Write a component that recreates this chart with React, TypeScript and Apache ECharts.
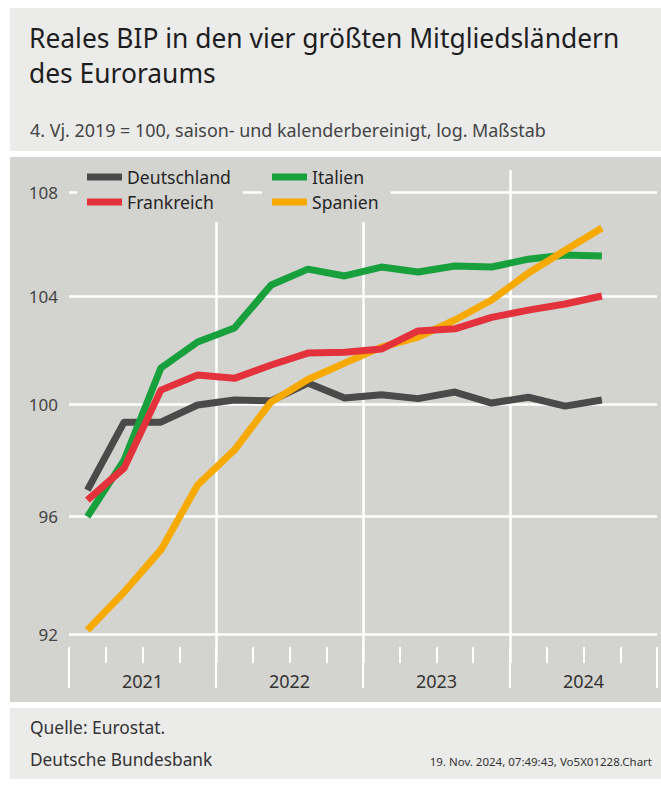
import React, { useEffect, useRef } from 'react';
import * as echarts from 'echarts';

const quarters = [
  '2021 Q1', '2021 Q2', '2021 Q3', '2021 Q4',
  '2022 Q1', '2022 Q2', '2022 Q3', '2022 Q4',
  '2023 Q1', '2023 Q2', '2023 Q3', '2023 Q4',
  '2024 Q1', '2024 Q2', '2024 Q3', '2024 Q4',
];
const years = ['2021', '2022', '2023', '2024'];

const deutschland = [96.93, 99.35, 99.35, 99.97, 100.15, 100.12, 100.77, 100.22, 100.34, 100.2, 100.44, 100.04, 100.25, 99.93, 100.15];
const italien = [96.0, 97.99, 101.32, 102.28, 102.8, 104.42, 105.02, 104.76, 105.1, 104.91, 105.14, 105.1, 105.4, 105.56, 105.52];
const frankreich = [96.58, 97.71, 100.51, 101.06, 100.94, 101.43, 101.87, 101.9, 102.02, 102.69, 102.77, 103.2, 103.47, 103.7, 104.0];
const spanien = [92.13, 93.41, 94.85, 97.11, 98.35, 100.08, 100.9, 101.5, 102.09, 102.46, 103.1, 103.85, 104.87, 105.74, 106.6];

const yTicks = [92, 96, 100, 104, 108];
const yearBoundaries = [4, 8, 12];

const FONT = '"Noto Sans", "Open Sans", sans-serif';
const PLOT_BG = '#d3d3d0';
const HEAD_BG = '#ebebea';

// layout (pixels)
const W = 661;
const H = 785;
const GRID_LEFT = 69;
const GRID_RIGHT_X = 657;
const GRID_TOP = 170;
const GRID_BOTTOM_Y = 663;
const Y_LOW = 634; // pixel of lowest tick
const Y_HIGH = 192; // pixel of highest tick

export default function App() {
  const ref = useRef<HTMLDivElement>(null);

  useEffect(() => {
    if (!ref.current) return;
    const chart = echarts.init(ref.current, undefined, { renderer: 'svg' });

    const lo = yTicks[0];
    const hi = yTicks[yTicks.length - 1];
    const perPx = Math.log(hi / lo) / (Y_LOW - Y_HIGH);
    const yMin = lo * Math.exp(-perPx * (GRID_BOTTOM_Y - Y_LOW));
    const yMax = hi * Math.exp(perPx * (Y_HIGH - GRID_TOP));

    const lineSeries = (name: string, data: number[], color: string) => ({
      name,
      type: 'line',
      xAxisIndex: 0,
      yAxisIndex: 0,
      data,
      symbol: 'none',
      showSymbol: false,
      silent: true,
      itemStyle: { color },
      lineStyle: { color, width: 7, join: 'round' },
      z: 3,
    });

    const legendBase = {
      orient: 'vertical',
      top: 165,
      icon: 'rect',
      itemWidth: 35,
      itemHeight: 7,
      itemGap: 7,
      backgroundColor: PLOT_BG,
      padding: [3, 12, 11, 10],
      selectedMode: false,
      textStyle: { fontFamily: FONT, fontSize: 17.6, color: '#262626' },
    };

    chart.setOption({
      animation: false,
      backgroundColor: 'transparent',
      textStyle: { fontFamily: FONT },
      graphic: [
        {
          type: 'text',
          style: {
            text: 'Reales BIP in den vier größten Mitgliedsländern',
            x: 29, y: 38, fontFamily: FONT, fontSize: 26.4, fill: '#1e1e1e', verticalAlign: 'middle',
          },
        },
        {
          type: 'text',
          style: {
            text: 'des Euroraums',
            x: 29, y: 73, fontFamily: FONT, fontSize: 26.4, fill: '#1e1e1e', verticalAlign: 'middle',
          },
        },
        {
          type: 'text',
          style: {
            text: '4. Vj. 2019 = 100, saison- und kalenderbereinigt, log. Maßstab',
            x: 30, y: 130, fontFamily: FONT, fontSize: 17.9, fill: '#444', verticalAlign: 'middle',
          },
        },
        {
          type: 'text',
          style: {
            text: 'Quelle: Eurostat.',
            x: 30, y: 727, fontFamily: FONT, fontSize: 17.4, fill: '#333', verticalAlign: 'middle',
          },
        },
        {
          type: 'text',
          style: {
            text: 'Deutsche Bundesbank',
            x: 30, y: 759, fontFamily: FONT, fontSize: 17.3, fill: '#333', verticalAlign: 'middle',
          },
        },
        {
          type: 'text',
          style: {
            text: '19. Nov. 2024, 07:49:43, Vo5X01228.Chart',
            x: 652, y: 761, fontFamily: FONT, fontSize: 11.5, fill: '#333', align: 'right', verticalAlign: 'middle',
          },
        },
      ],
      legend: [
        { ...legendBase, left: 77, data: ['Deutschland', 'Frankreich'] },
        { ...legendBase, left: 262, data: ['Italien', 'Spanien'] },
      ],
      grid: {
        left: GRID_LEFT,
        right: W - GRID_RIGHT_X,
        top: GRID_TOP,
        bottom: H - GRID_BOTTOM_Y,
        containLabel: false,
      },
      xAxis: [
        {
          type: 'category',
          data: quarters,
          position: 'bottom',
          boundaryGap: true,
          axisLine: { show: false },
          axisTick: { show: true, inside: true, length: 16, interval: 0, lineStyle: { color: '#fff', width: 2 } },
          axisLabel: { show: false },
          splitLine: { show: false },
        },
        {
          type: 'category',
          data: years,
          position: 'bottom',
          boundaryGap: true,
          axisLine: { show: false },
          axisTick: { show: true, inside: false, length: 25, interval: 0, lineStyle: { color: '#fff', width: 2 } },
          axisLabel: { show: true, margin: 9, fontFamily: FONT, fontSize: 18, color: '#333' },
          splitLine: { show: false },
        },
        {
          type: 'value',
          min: 0,
          max: quarters.length,
          show: false,
          splitLine: { show: false },
        },
      ],
      yAxis: [
        {
          type: 'log',
          logBase: 10,
          min: yMin,
          max: yMax,
          show: false,
          splitLine: { show: false },
        },
      ],
      series: [
        {
          name: 'grid',
          type: 'line',
          xAxisIndex: 2,
          yAxisIndex: 0,
          data: [[0, 100]],
          symbol: 'none',
          showSymbol: false,
          silent: true,
          lineStyle: { opacity: 0 },
          z: 1,
          markLine: {
            z: 1,
            silent: true,
            symbol: 'none',
            animation: false,
            lineStyle: { color: '#ffffff', width: 2.5, type: 'solid' },
            label: { show: false },
            emphasis: { disabled: true },
            data: [
              ...yTicks.map((v) => ({
                yAxis: v,
                label: {
                  show: true,
                  position: 'start',
                  distance: 11,
                  formatter: String(v),
                  fontFamily: FONT,
                  fontSize: 17,
                  color: '#444',
                },
              })),
              ...yearBoundaries.map((v) => ({ xAxis: v })),
            ],
          },
        },
        lineSeries('Deutschland', deutschland, '#4a4a4a'),
        lineSeries('Italien', italien, '#17a03c'),
        lineSeries('Spanien', spanien, '#f6aa00'),
        lineSeries('Frankreich', frankreich, '#e3323b'),
      ],
    });

    return () => chart.dispose();
  }, []);

  return (
    <div style={{ position: 'absolute', left: 0, top: 0, width: W, height: H, background: '#fff' }}>
      <div style={{ position: 'absolute', left: 10, top: 8, width: W - 10, height: 143, background: HEAD_BG }} />
      <div style={{ position: 'absolute', left: 10, top: 157, width: W - 10, height: 545, background: PLOT_BG }} />
      <div style={{ position: 'absolute', left: 10, top: 708, width: W - 10, height: 71, background: HEAD_BG }} />
      <div ref={ref} style={{ position: 'absolute', left: 0, top: 0, width: W, height: H }} />
    </div>
  );
}
